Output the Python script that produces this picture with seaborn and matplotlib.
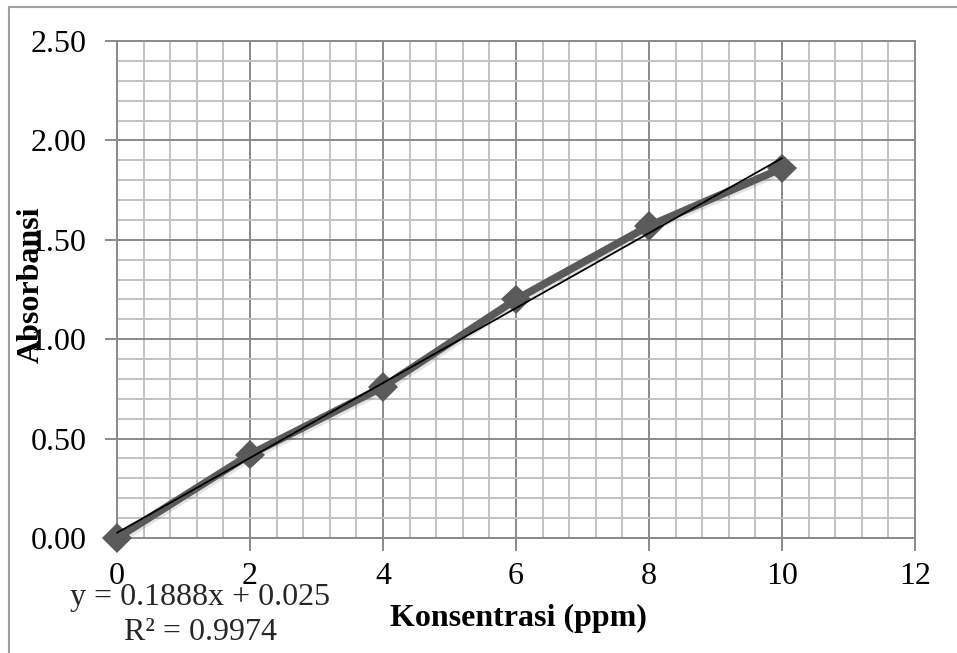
import numpy as np
import pandas as pd
import seaborn as sns
import matplotlib.pyplot as plt
import matplotlib.patheffects as pe
from matplotlib.patches import Rectangle
from matplotlib.ticker import MultipleLocator

# Data
konsentrasi = [0, 2, 4, 6, 8, 10]
absorbansi = [0.00, 0.42, 0.76, 1.20, 1.57, 1.86]
persamaan = "y = 0.1888x + 0.025"
r_kuadrat = "R² = 0.9974"

df = pd.DataFrame({'Konsentrasi': konsentrasi, 'Absorbansi': absorbansi})

# Linear trendline from the data
slope, intercept = np.polyfit(konsentrasi, absorbansi, 1)
df_trend = pd.DataFrame({'Konsentrasi': konsentrasi})
df_trend['Absorbansi'] = slope * df_trend['Konsentrasi'] + intercept

sns.set_theme(style='white')
plt.rcParams['font.family'] = ['Liberation Serif', 'DejaVu Serif']

fig = plt.figure(figsize=(9.57, 6.53), dpi=100)
ax = fig.add_axes([117 / 957, 1 - 538 / 653, (915 - 117) / 957, (538 - 41) / 653])

# Outer chart border (cut off at right and bottom)
fig.patches.append(Rectangle((9 / 957, -0.05), 1.2, 1 - 7 / 653 + 0.05, transform=fig.transFigure,
                             fill=False, edgecolor='#a0a0a0', linewidth=1.5))

sns.lineplot(data=df, x='Konsentrasi', y='Absorbansi', ax=ax, color='#5a5a5a', linewidth=5.5,
             marker='D', markersize=15, markeredgewidth=0, zorder=3, clip_on=False,
             path_effects=[pe.SimpleLineShadow(offset=(1.5, -1.5), alpha=0.12), pe.Normal()])
sns.lineplot(data=df_trend, x='Konsentrasi', y='Absorbansi', ax=ax, color='black', linewidth=1.3,
             zorder=4, clip_on=False)

ax.set_xlim(0, 12)
ax.set_ylim(0, 2.5)
ax.xaxis.set_major_locator(MultipleLocator(2))
ax.xaxis.set_minor_locator(MultipleLocator(0.4))
ax.yaxis.set_major_locator(MultipleLocator(0.5))
ax.yaxis.set_minor_locator(MultipleLocator(0.1))
ax.set_yticklabels([f'{v:.2f}' for v in ax.get_yticks()])

ax.grid(which='minor', color='#c2c2c2', linewidth=1.4)
ax.grid(which='major', color='#8a8a8a', linewidth=1.4)
ax.set_axisbelow(True)
for s in ax.spines.values():
    s.set_color('#8a8a8a')
    s.set_linewidth(1.4)

ax.tick_params(axis='both', which='major', direction='out', length=9, width=1.4, color='#8a8a8a',
               labelsize=23, colors='black')
ax.tick_params(axis='x', which='major', pad=8)
ax.tick_params(axis='y', which='major', pad=13)
ax.tick_params(which='minor', length=0)
ax.tick_params(axis='both', bottom=True, left=True)

ax.set_xlabel('Konsentrasi (ppm)', fontsize=23, fontweight='bold', color='black', va='center')
ax.set_ylabel('Absorbansi', fontsize=23, fontweight='bold', color='black')
ax.xaxis.set_label_coords((518 - 117) / (915 - 117), -(618 - 538) / (538 - 41))
ax.yaxis.set_label_coords(-(117 - 46) / (915 - 117), (538 - 285) / (538 - 41))

fig.text(200 / 957, 1 - 598 / 653, persamaan, fontsize=23, ha='center', va='center')
fig.text(200 / 957, 1 - 633 / 653, r_kuadrat, fontsize=23, ha='center', va='center')

fig.savefig('out.png', dpi=100)
